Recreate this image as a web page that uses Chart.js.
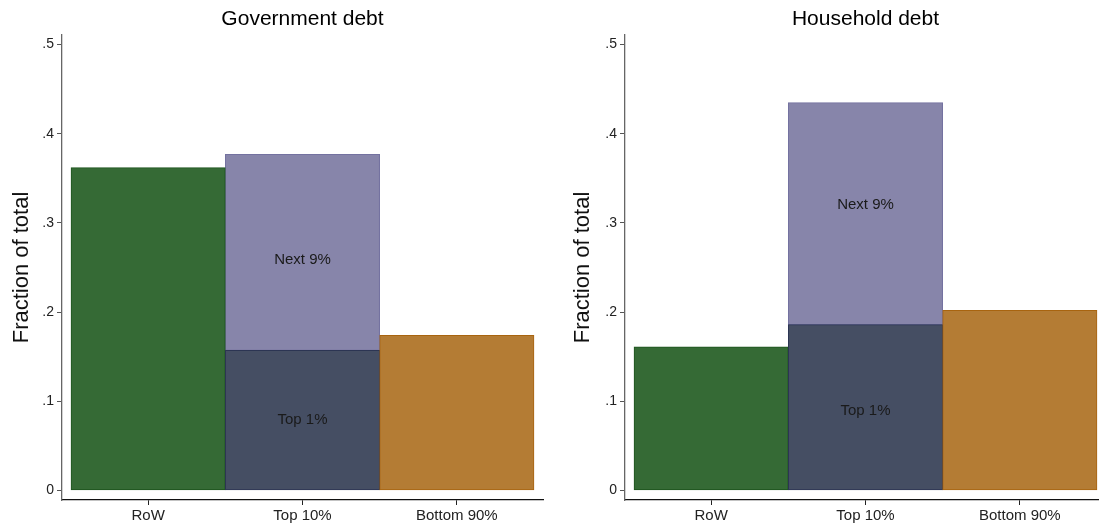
<!DOCTYPE html>
<html>
<head>
<meta charset="utf-8">
<script src="https://cdn.jsdelivr.net/npm/chart.js@4.4.1/dist/chart.umd.min.js"></script>
<style>
  html, body { margin: 0; padding: 0; background: #ffffff; overflow: hidden; width: 1099px; height: 529px; }
  .panel { position: absolute; top: 0; }
</style>
</head>
<body>
<div class="panel" style="left:0px"><canvas id="gov" width="560" height="529"></canvas></div>
<div class="panel" style="left:560px"><canvas id="hh" width="560" height="529"></canvas></div>
<script>
// ---- data ----
const categories = ['RoW', 'Top 10%', 'Bottom 90%'];
// base segment: RoW, Top 1% (within Top 10%), Bottom 90%
const govBase  = [0.362, 0.157, 0.174];
const govNext9 = [null, 0.220, null];
const hhBase   = [0.161, 0.186, 0.202];
const hhNext9  = [null, 0.249, null];
const yTicks = [0, 0.1, 0.2, 0.3, 0.4, 0.5];
const segmentLabels = ['Top 1%', 'Next 9%'];
const govLabelY = [0.079, 0.259];
const hhLabelY  = [0.089, 0.320];
const titles = ['Government debt', 'Household debt'];
const yTitle = 'Fraction of total';

// ---- styles ----
const baseFill   = ['#356a35', '#454e63', '#b47c34'];
const baseBorder = ['#1d531d', '#2c3553', '#a8640f'];
const next9Fill = '#8785aa';
const next9Border = '#7472a0';
const FONT = "'Liberation Sans', Arial, Helvetica, sans-serif";

function fmtTick(v) {
  if (Math.abs(v) < 1e-9) return '0';
  return v.toFixed(1).replace(/^0/, '');
}

const panelPlugin = {
  id: 'panelText',
  afterDatasetsDraw(chart, args, opts) {
    const ctx = chart.ctx;
    const xs = chart.scales.x, ys = chart.scales.y;
    ctx.save();
    ctx.fillStyle = '#1a1a1a';
    ctx.font = '15px ' + FONT;
    ctx.textAlign = 'center';
    ctx.textBaseline = 'middle';
    opts.labelY.forEach((v, i) => {
      ctx.fillText(segmentLabels[i], xs.getPixelForValue(1), ys.getPixelForValue(v));
    });
    ctx.fillStyle = '#000000';
    ctx.font = '21px ' + FONT;
    ctx.fillText(opts.title, (chart.chartArea.left + chart.chartArea.right) / 2, 19);
    ctx.restore();
  }
};

function makeChart(id, base, next9, labelY, title, yWidth, padRight, titlePad) {
  const toPts = arr => arr.map((v, i) => ({ x: i, y: v })).filter(p => p.y !== null);
  return new Chart(document.getElementById(id), {
    type: 'bar',
    data: {
      datasets: [
        {
          label: 'base',
          data: toPts(base),
          backgroundColor: baseFill,
          borderColor: baseBorder,
          borderWidth: 1,
          borderSkipped: false,
          barPercentage: 1,
          categoryPercentage: 1
        },
        {
          label: 'Next 9%',
          data: toPts(next9),
          backgroundColor: next9Fill,
          borderColor: next9Border,
          borderWidth: 1,
          borderSkipped: false,
          barPercentage: 1,
          categoryPercentage: 1
        }
      ]
    },
    options: {
      responsive: false,
      animation: false,
      devicePixelRatio: 1,
      layout: { padding: { top: 35, right: padRight, bottom: 0, left: 0 } },
      plugins: {
        legend: { display: false },
        tooltip: { enabled: false },
        title: { display: false },
        panelText: { labelY: labelY, title: title }
      },
      scales: {
        x: {
          type: 'linear',
          stacked: true,
          offset: false,
          min: -0.5583,
          max: 2.5583,
          afterBuildTicks: s => { s.ticks = categories.map((c, i) => ({ value: i })); },
          afterFit: s => { s.height = 29; },
          ticks: {
            autoSkip: false,
            maxRotation: 0,
            padding: 2,
            color: '#222',
            font: { family: FONT, size: 15 },
            callback: v => categories[v]
          },
          grid: { display: true, offset: false, drawOnChartArea: false, drawTicks: true, tickLength: 5, color: '#222' },
          border: { display: true, color: '#111', width: 1.3 }
        },
        y: {
          type: 'linear',
          stacked: true,
          min: -0.0108,
          max: 0.5108,
          afterBuildTicks: s => { s.ticks = yTicks.map(v => ({ value: v })); },
          afterFit: s => { s.width = yWidth; },
          ticks: {
            padding: 3,
            color: '#222',
            font: { family: FONT, size: 14 },
            callback: v => fmtTick(v)
          },
          grid: { display: true, drawOnChartArea: false, drawTicks: true, tickLength: 5, color: '#555' },
          border: { display: true, color: '#666', width: 1.3 },
          title: {
            display: true,
            text: yTitle,
            color: '#111',
            font: { family: FONT, size: 22 },
            padding: { top: titlePad, bottom: 0 }
          }
        }
      }
    },
    plugins: [panelPlugin]
  });
}

makeChart('gov', govBase, govNext9, govLabelY, titles[0], 62, 17, 9);
makeChart('hh', hhBase, hhNext9, hhLabelY, titles[1], 65, 14, 10);
</script>
</body>
</html>
